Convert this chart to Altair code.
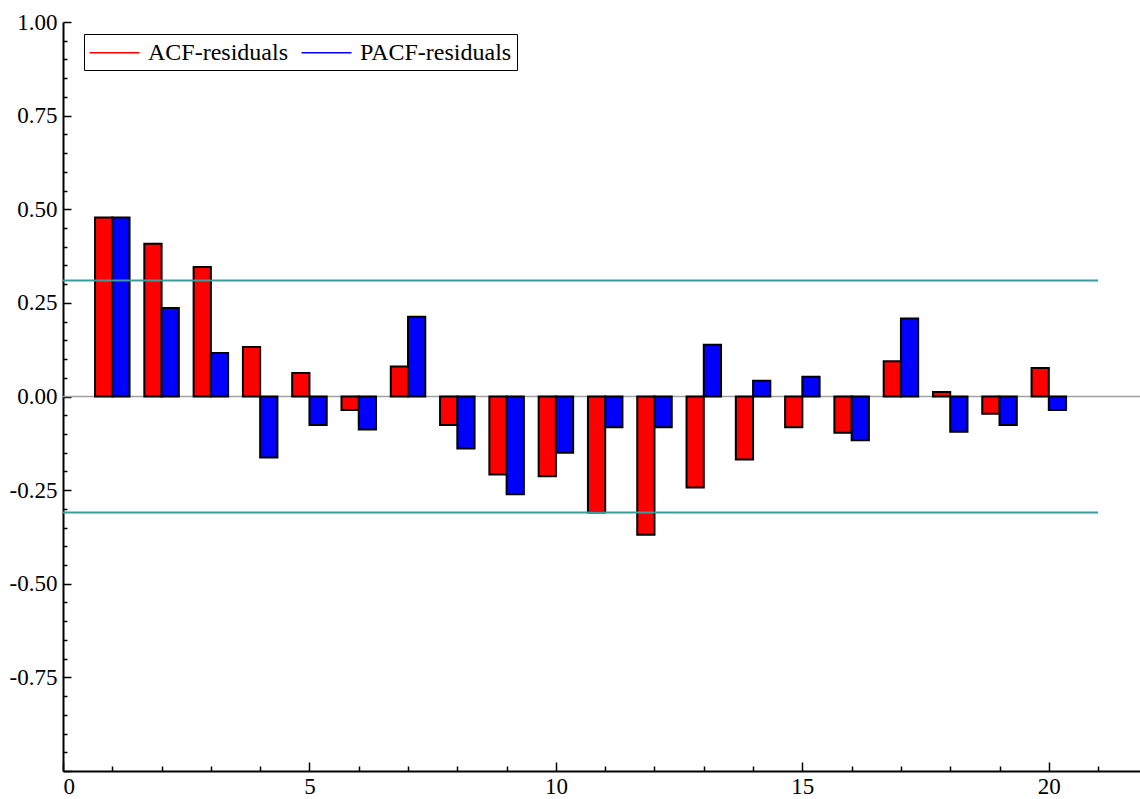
import altair as alt
import pandas as pd

# ---- data ----
lags = list(range(1, 21))
acf_values = [0.478, 0.408, 0.346, 0.132, 0.063, -0.036, 0.080, -0.076, -0.208, -0.213,
              -0.310, -0.369, -0.243, -0.168, -0.082, -0.097, 0.094, 0.012, -0.046, 0.076]
pacf_values = [0.478, 0.236, 0.116, -0.163, -0.076, -0.088, 0.213, -0.139, -0.261, -0.150,
               -0.082, -0.082, 0.138, 0.042, 0.053, -0.117, 0.208, -0.094, -0.076, -0.036]
series_names = ["ACF-residuals", "PACF-residuals"]
series_colors = ["#ff0000", "#0000ff"]
conf_bound = 0.31
conf_x_range = [0, 21]

y_label_values = [1.0, 0.75, 0.5, 0.25, 0.0, -0.25, -0.5, -0.75]
y_tick_values = [round(-1 + 0.05 * i, 2) for i in range(41)]
x_label_values = [0, 5, 10, 15, 20]
x_tick_values = list(range(0, 22))

W, H = 1077, 749
HALF = 0.35
FONT = "Liberation Serif"

rows = []
for lag, a, p in zip(lags, acf_values, pacf_values):
    rows.append({"series": series_names[0], "lag": lag, "value": a, "x0": lag - HALF, "x1": lag})
    rows.append({"series": series_names[1], "lag": lag, "value": p, "x0": lag, "x1": lag + HALF})
bars_df = pd.DataFrame(rows)

conf_df = pd.DataFrame({"y": [conf_bound, -conf_bound],
                        "x0": [conf_x_range[0]] * 2, "x1": [conf_x_range[1]] * 2})
zero_df = pd.DataFrame({"y": [0.0]})
legend_df = pd.DataFrame({"name": series_names, "lx": [0, 0], "ly": [0.0, 0.0]})

xs = alt.Scale(domain=[0, 21.85], nice=False, zero=False)
ys = alt.Scale(domain=[-1, 1], nice=False)

label_axis_y = alt.Axis(
    orient="left", values=y_label_values, ticks=False, grid=False, title=None,
    labelExpr="replace(format(datum.value, '.2f'), '\u2212', '-')",
    labelFont=FONT, labelFontSize=23, labelColor="black", labelPadding=6,
    domainColor="black", domainWidth=2,
)
label_axis_x = alt.Axis(
    orient="bottom", values=x_label_values, ticks=False, grid=False, title=None,
    format="d", labelFont=FONT, labelFontSize=23, labelColor="black", labelPadding=4,
    domainColor="black", domainWidth=2,
)
tick_axis_y = alt.Axis(
    orient="right", offset=-W, values=y_tick_values, labels=False, domain=False,
    grid=False, title=None, tickColor="black", tickWidth=1.5,
    tickSize={"condition": {"test": "abs(round(datum.value*100)) % 25 === 0", "value": 8}, "value": 4},
)
tick_axis_x = alt.Axis(
    orient="top", offset=-H, values=x_tick_values, labels=False, domain=False,
    grid=False, title=None, tickColor="black", tickWidth=1.5,
    tickSize={"condition": {"test": "round(datum.value) % 5 === 0", "value": 9}, "value": 5},
)

zero_line = alt.Chart(zero_df).mark_rule(color="#a0a0a0", strokeWidth=1.5).encode(
    y=alt.Y("y:Q", scale=ys, axis=None)
)

bars = alt.Chart(bars_df).mark_rect(stroke="black", strokeWidth=2).encode(
    x=alt.X("x0:Q", scale=xs, axis=label_axis_x),
    x2="x1:Q",
    y=alt.Y("value:Q", scale=ys, axis=label_axis_y),
    y2=alt.datum(0),
    fill=alt.Fill("series:N", scale=alt.Scale(domain=series_names, range=series_colors), legend=None),
)

conf_lines = alt.Chart(conf_df).mark_rule(color="#3c9c9c", strokeWidth=2).encode(
    x=alt.X("x0:Q", scale=xs, axis=tick_axis_x),
    x2="x1:Q",
    y=alt.Y("y:Q", scale=ys, axis=tick_axis_y),
)

legend_layer = alt.Chart(legend_df).mark_line(strokeWidth=1.5).encode(
    x=alt.X("lx:Q", scale=xs, axis=None),
    y=alt.Y("ly:Q", scale=ys, axis=None),
    stroke=alt.Stroke(
        "name:N",
        scale=alt.Scale(domain=series_names, range=series_colors),
        legend=alt.Legend(
            title=None, orient="none", legendX=21, legendY=12, direction="horizontal",
            symbolType="M-2,0H2", symbolSize=625, symbolStrokeWidth=1.5,
            symbolOffset=12,
            labelFont=FONT, labelFontSize=24, labelColor="black", labelOffset=20,
            columnPadding=10, padding=5, strokeColor="black", fillColor="white",
        ),
    ),
)

chart = alt.layer(zero_line, bars, conf_lines, legend_layer).resolve_axis(
    x="independent", y="independent"
).resolve_legend(fill="independent", stroke="independent").properties(
    width=W, height=H,
    autosize=alt.AutoSizeParams(type="none"),
    padding={"left": 63, "top": 22, "right": 0, "bottom": 28},
    background="white",
).configure_view(stroke=None)

chart.save("out.html", embed_options={"renderer": "svg", "actions": False})
